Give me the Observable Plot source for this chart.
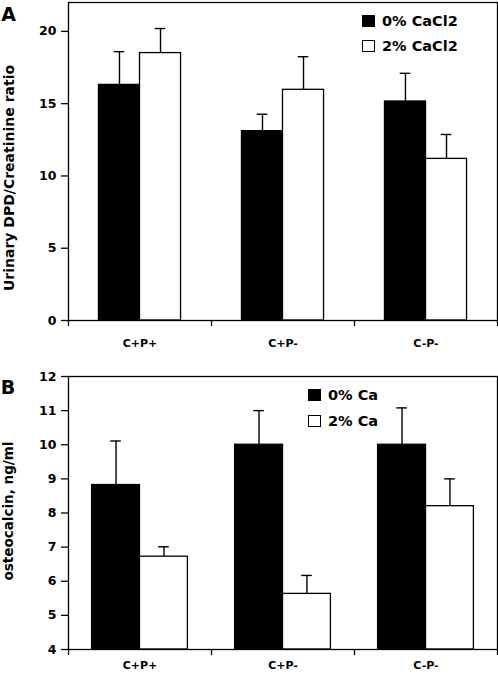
<!DOCTYPE html>
<html>
<head>
<meta charset="utf-8">
<script src="https://cdn.jsdelivr.net/npm/d3@7"></script>
<script src="https://cdn.jsdelivr.net/npm/@observablehq/plot@0.6"></script>
<style>
  body { margin: 0; background: white; font-family: "DejaVu Sans", sans-serif; }
  #root { position: relative; width: 498px; height: 676px; }
  #root svg { display: block; }
  .leg { position: absolute; font-family: "DejaVu Sans", sans-serif; font-weight: bold; font-size: 14.5px; color: black; }
  .leg .row { position: absolute; left: 0; white-space: nowrap; height: 14px; line-height: 14px; }
  .leg .sw { position: absolute; left: 0; top: 1px; width: 11px; height: 10px; border: 1.3px solid black; }
  .leg .tx { position: absolute; top: 0px; }
  .ylab { position: absolute; font-family: "DejaVu Sans", sans-serif; font-weight: bold; white-space: nowrap; line-height: 1; transform: translate(-50%, -50%) rotate(-90deg); }
  .letter { position: absolute; font-family: "DejaVu Sans", sans-serif; font-weight: bold; font-size: 19px; line-height: 1; transform: translate(-50%, -50%); }
</style>
</head>
<body>
<div id="root"></div>
<script>
// ---- data ----
const groups = ["C+P+", "C+P-", "C-P-"];

const dpdSeries = ["0% CaCl2", "2% CaCl2"];
const dpd0Mean = [16.3, 13.1, 15.15];
const dpd0Se   = [2.3, 1.17, 1.95];
const dpd2Mean = [18.5, 15.96, 11.18];
const dpd2Se   = [1.7, 2.29, 1.69];
const dpdTicks = [0, 5, 10, 15, 20];
const dpdLabel = "Urinary DPD/Creatinine ratio";

const ocSeries = ["0% Ca", "2% Ca"];
const oc0Mean = [8.82, 10.0, 10.0];
const oc0Se   = [1.29, 1.0, 1.08];
const oc2Mean = [6.72, 5.63, 8.2];
const oc2Se   = [0.29, 0.54, 0.8];
const ocTicks = [4, 5, 6, 7, 8, 9, 10, 11, 12];
const ocLabel = "osteocalcin, ng/ml";

const panelLetters = ["A", "B"];

const FONT = "DejaVu Sans";

function panel(o) {
  const rows = [];
  groups.forEach((g, i) => {
    [[o.m0, o.s0], [o.m1, o.s1]].forEach(([m, s], k) => {
      const x1 = k === 0 ? i + 0.5 - o.w : i + 0.5;
      const x2 = k === 0 ? i + 0.5 : i + 0.5 + o.w;
      rows.push({group: g, k, mean: m[i], top: m[i] + s[i], x1, x2, c: (x1 + x2) / 2});
    });
  });
  const cap = 0.037;
  return Plot.plot({
    width: 498,
    height: o.height,
    marginLeft: 68,
    marginRight: 1,
    marginTop: o.marginTop,
    marginBottom: o.marginBottom,
    style: {fontFamily: FONT, fontWeight: "bold", fontSize: "12.5px", background: "white", color: "black"},
    x: {type: "linear", domain: [0, 3]},
    y: {domain: o.yDomain},
    marks: [
      Plot.rectY(rows.filter(d => d.k === 0), {x1: "x1", x2: "x2", y1: o.yDomain[0], y2: "mean", fill: "black", stroke: "black", strokeWidth: 1.3}),
      Plot.rectY(rows.filter(d => d.k === 1), {x1: "x1", x2: "x2", y1: o.yDomain[0], y2: "mean", fill: "white", stroke: "black", strokeWidth: 1.3}),
      Plot.ruleX(rows, {x: "c", y1: "mean", y2: "top", stroke: "black", strokeWidth: 1.4}),
      Plot.ruleY(rows, {y: "top", x1: d => d.c - cap, x2: d => d.c + cap, stroke: "black", strokeWidth: 1.4}),
      Plot.frame({stroke: "black", strokeWidth: 1.3}),
      Plot.axisY({ticks: o.yTicks, tickSize: 7, tickPadding: 5, tickFormat: d => String(d), label: null, strokeWidth: 1.3, fontSize: 12.5}),
      Plot.axisX({ticks: [0, 1, 2, 3], tickSize: 6, tickFormat: () => "", label: null, strokeWidth: 1.3}),
      Plot.axisX({ticks: [0.5, 1.5, 2.5], tickSize: 0, tickPadding: o.xPad, tickFormat: t => groups[Math.floor(t)], label: null, fontSize: 11})
    ]
  });
}

const root = document.getElementById("root");

root.appendChild(panel({
  m0: dpd0Mean, s0: dpd0Se, m1: dpd2Mean, s1: dpd2Se,
  w: 0.287, yDomain: [0, 22], yTicks: dpdTicks,
  height: 358, marginTop: 2, marginBottom: 38, xPad: 19
}));

root.appendChild(panel({
  m0: oc0Mean, s0: oc0Se, m1: oc2Mean, s1: oc2Se,
  w: 0.335, yDomain: [4, 12], yTicks: ocTicks,
  height: 318, marginTop: 18, marginBottom: 27, xPad: 12
}));

function addText(cls, text, x, y, size) {
  const d = document.createElement("div");
  d.className = cls;
  d.textContent = text;
  d.style.left = x + "px";
  d.style.top = y + "px";
  if (size) d.style.fontSize = size + "px";
  root.appendChild(d);
}
addText("ylab", dpdLabel, 9, 177.5, 14);
addText("ylab", ocLabel, 9, 510.5, 13.5);
addText("letter", panelLetters[0], 8.5, 13.5);
addText("letter", panelLetters[1], 8, 386.5);

function legend(series, left, top, gap) {
  const div = document.createElement("div");
  div.className = "leg";
  div.style.left = left + "px";
  div.style.top = top + "px";
  series.forEach((s, k) => {
    const row = document.createElement("div");
    row.className = "row";
    row.style.top = (k * gap) + "px";
    const sw = document.createElement("div");
    sw.className = "sw";
    sw.style.background = k === 0 ? "black" : "white";
    const tx = document.createElement("div");
    tx.className = "tx";
    tx.style.left = "20px";
    tx.textContent = s;
    row.appendChild(sw);
    row.appendChild(tx);
    div.appendChild(row);
  });
  root.appendChild(div);
}
legend(dpdSeries, 362, 14, 25);
legend(ocSeries, 308, 388, 26);
</script>
</body>
</html>
